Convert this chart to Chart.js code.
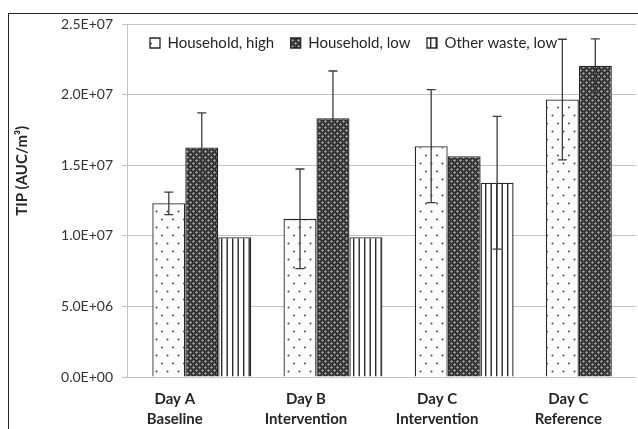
<!DOCTYPE html>
<html>
<head>
<meta charset="utf-8">
<script src="https://cdn.jsdelivr.net/npm/chart.js@4.4.1/dist/chart.umd.min.js"></script>
<style>
  html, body { margin: 0; padding: 0; background: #fff; overflow: hidden; }
  #wrap { position: relative; width: 638px; height: 429px; overflow: hidden; }
  #c { position: absolute; left: 0; top: 0; }
  #frame { position: absolute; left: 8px; top: 13px; width: 700px; height: 500px;
           border-left: 1.5px solid #262626; border-top: 1.5px solid #262626; pointer-events: none; }
</style>
</head>
<body>
<div id="wrap">
  <canvas id="c" width="638" height="429"></canvas>
  <div id="frame"></div>
</div>
<script>
// Sampling days (two-line category labels)
const categories = [["Day A", "Baseline"], ["Day B", "Intervention"], ["Day C", "Intervention"], ["Day C", "Reference"]];
const seriesNames = ["Household, high", "Household, low", "Other waste, low"];

// TIP, AUC per m³ (mean and error half-width)
const householdHigh    = [1.23e7, 1.12e7, 1.635e7, 1.965e7];
const householdHighErr = [0.08e7, 0.353e7, 0.40e7, 0.427e7];
const householdLow     = [1.625e7, 1.832e7, 1.563e7, 2.205e7];
const householdLowErr  = [0.245e7, 0.335e7, null, 0.19e7];
const otherWasteLow    = [0.99e7, 0.99e7, 1.376e7, null];
const otherWasteLowErr = [null, null, 0.47e7, null];

const yTicks = [0, 5e6, 1e7, 1.5e7, 2e7, 2.5e7];
const yTitle = "TIP (AUC/m³)";

const FONT = "Lato";
const TEXT = "#262626";

function sci(v) {
  if (v === 0) return "0.0E+00";
  const e = Math.floor(Math.log10(Math.abs(v)) + 1e-9);
  const m = (v / Math.pow(10, e)).toFixed(1);
  const s = e < 0 ? "-" : "+";
  return m + "E" + s + String(Math.abs(e)).padStart(2, "0");
}

function makePattern(w, h, draw) {
  const t = document.createElement("canvas");
  t.width = w; t.height = h;
  draw(t.getContext("2d"), w, h);
  return document.getElementById("c").getContext("2d").createPattern(t, "repeat");
}

// sparse staggered dots on white
const dotFill = makePattern(11, 16, (g, w, h) => {
  g.fillStyle = "#fbfbfb"; g.fillRect(0, 0, w, h);
  g.fillStyle = "#444";
  g.beginPath(); g.arc(2.5, 3.5, 0.95, 0, Math.PI * 2); g.fill();
  g.beginPath(); g.arc(8, 11.5, 0.95, 0, Math.PI * 2); g.fill();
});
// dark lattice with light round spots
const latticeFill = makePattern(6, 6, (g, w, h) => {
  g.fillStyle = "#2b2b2b"; g.fillRect(0, 0, w, h);
  g.fillStyle = "#a4a4a4";
  g.beginPath(); g.arc(1.5, 1.5, 1.2, 0, Math.PI * 2); g.fill();
  g.beginPath(); g.arc(4.5, 4.5, 1.2, 0, Math.PI * 2); g.fill();
  g.fillStyle = "#656565";
  g.fillRect(4, 1, 1, 1); g.fillRect(1, 4, 1, 1);
});
// vertical stripes on white
const stripeFill = makePattern(11, 4, (g, w, h) => {
  g.fillStyle = "#ffffff"; g.fillRect(0, 0, w, h);
  g.fillStyle = "#2a2a2a";
  g.fillRect(1, 0, 1.4, h);
  g.fillRect(6.5, 0, 1.4, h);
});

const errorBars = {
  id: "errorBars",
  afterDatasetsDraw(chart) {
    const ctx = chart.ctx, ys = chart.scales.y;
    chart.data.datasets.forEach((ds, di) => {
      if (!ds.errors) return;
      const meta = chart.getDatasetMeta(di);
      ds.errors.forEach((e, i) => {
        const v = ds.data[i] && ds.data[i].y;
        if (e == null || v == null) return;
        const x = meta.data[i].x;
        const top = ys.getPixelForValue(v + e);
        const bot = ys.getPixelForValue(v - e);
        ctx.save();
        ctx.strokeStyle = "#3c3c3c";
        ctx.lineWidth = 1.3;
        ctx.beginPath();
        ctx.moveTo(x, top); ctx.lineTo(x, bot);
        ctx.moveTo(x - 4.5, top); ctx.lineTo(x + 4.5, top);
        ctx.moveTo(x - 4.5, bot); ctx.lineTo(x + 4.5, bot);
        ctx.stroke();
        ctx.restore();
      });
    });
  }
};

const axisTitle = {
  id: "axisTitle",
  afterDraw(chart) {
    const { ctx, chartArea: a } = chart;
    ctx.save();
    ctx.translate(22, a.top + a.height * 0.416);
    ctx.rotate(-Math.PI / 2);
    ctx.font = "bold 15px " + FONT;
    ctx.fillStyle = TEXT;
    ctx.textAlign = "center";
    ctx.textBaseline = "middle";
    ctx.fillText(yTitle, 0, 0);
    ctx.restore();
  }
};

// the legend row sits inside the plot, near its top-left corner
const legendInside = {
  id: "legendInside",
  afterLayout(chart) {
    const lg = chart.legend, a = chart.chartArea;
    if (!lg) return;
    lg.left = a.left + 6.5;
    lg.top = a.top - 5;
    lg.height = 48;
    lg.bottom = lg.top + lg.height;
  }
};

function build() {
  Chart.defaults.font.family = FONT;
  Chart.defaults.color = TEXT;
  const common = { borderColor: "#262626", borderWidth: 1.3, categoryPercentage: 0.754, barPercentage: 1.0 };
  new Chart(document.getElementById("c"), {
    type: "bar",
    data: {
      datasets: [
        Object.assign({ label: seriesNames[0], data: householdHigh.map((y, i) => ({ x: i, y })), errors: householdHighErr, backgroundColor: dotFill }, common),
        Object.assign({ label: seriesNames[1], data: householdLow.map((y, i) => ({ x: i, y })), errors: householdLowErr, backgroundColor: latticeFill }, common),
        Object.assign({ label: seriesNames[2], data: otherWasteLow.map((y, i) => ({ x: i, y })), errors: otherWasteLowErr, backgroundColor: stripeFill }, common)
      ]
    },
    options: {
      responsive: false,
      animation: false,
      devicePixelRatio: 1,
      layout: { padding: { top: 0, right: 2, left: 0, bottom: 0 } },
      plugins: {
        tooltip: { enabled: false },
        legend: {
          position: "top",
          align: "start",
          maxHeight: 24,
          labels: { boxWidth: 10, boxHeight: 10, padding: 16.5, color: TEXT, font: { family: FONT, size: 15 } }
        }
      },
      scales: {
        x: {
          type: "linear",
          offset: false,
          bounds: "data",
          min: -0.57,
          max: 3.31,
          afterBuildTicks: s => { s.ticks = categories.map((c, i) => ({ value: i })); },
          grid: { display: false, drawTicks: false },
          border: { display: false },
          ticks: {
            autoSkip: false,
            maxRotation: 0,
            labelOffset: -27,
            padding: 12,
            color: TEXT,
            font: { family: FONT, size: 15, weight: "bold", lineHeight: 1.33 },
            callback: v => categories[Math.round(v)] || ""
          },
          afterFit: s => { s.height = 52; s.paddingLeft = 0; s.paddingRight = 0; }
        },
        y: {
          min: 0,
          max: 2.5e7,
          afterBuildTicks: s => { s.ticks = yTicks.map(v => ({ value: v })); },
          grid: { color: "#c4c4c4", lineWidth: 1, tickLength: 5, tickColor: "#c4c4c4" },
          border: { display: true, color: "#c4c4c4", width: 1 },
          ticks: { padding: 9, color: "#333", font: { family: FONT, size: 14 }, callback: v => sci(v) },
          afterFit: s => { s.width = 127; }
        }
      }
    },
    plugins: [errorBars, axisTitle, legendInside]
  });
}

Promise.all([
  document.fonts.load("15px " + FONT),
  document.fonts.load("bold 15px " + FONT)
]).then(build, build);
</script>
</body>
</html>
